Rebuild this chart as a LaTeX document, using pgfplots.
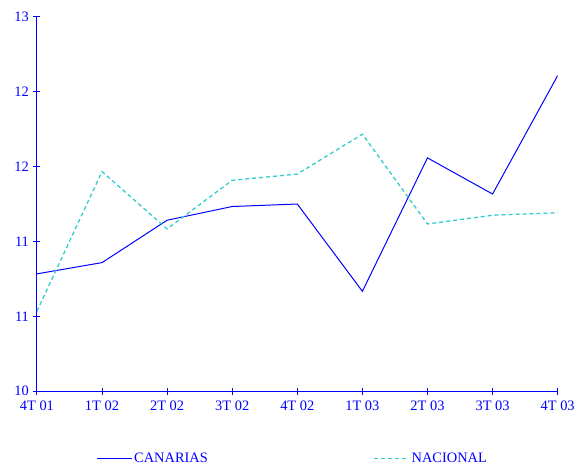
\documentclass[border=0pt]{standalone}
\usepackage{pgfplots}
\pgfplotsset{compat=1.18}
\usepackage{fontspec}
\setmainfont{Liberation Serif}
\definecolor{axisblue}{RGB}{0,0,255}
\definecolor{nacional}{RGB}{51,204,204}
\begin{document}
\begin{tikzpicture}
\begin{axis}[
  scale only axis,
  width=522bp, height=375bp,
  xmin=0, xmax=8, ymin=10, ymax=13,
  axis x line=bottom, axis y line=left,
  axis line style={axisblue, line width=1pt, -},
  every tick/.style={axisblue, line width=1pt},
  xtick align=center, ytick align=center, major tick length=7bp,
  xtick={0,...,8},
  xticklabels={4T 01,1T 02,2T 02,3T 02,4T 02,1T 03,2T 03,3T 03,4T 03},
  ytick={10,10.6,11.2,11.8,12.4,13},
  yticklabel style={xshift=-1bp, /pgf/number format/.cd, fixed, precision=0, assume math mode=true},
  ticklabel style={font=\fontsize{14.5}{16}\selectfont, text=axisblue},
  xticklabel style={yshift=-3bp},
  legend columns=2,
  legend style={draw=none, fill=none, at={(0.491,-0.16)}, anchor=north,
    font=\fontsize{14.5}{16}\selectfont, text=axisblue, inner sep=0pt,
    /tikz/every even column/.append style={column sep=164bp}},
  legend image code/.code={\draw[#1] (0bp,0bp) -- (35bp,0bp);},
]
\addplot[axisblue, line width=1pt] coordinates {
  (0,10.94) (1,11.03) (2,11.37) (3,11.48) (4,11.50)
  (5,10.80) (6,11.87) (7,11.58) (8,12.53)
};
\addlegendentry{CANARIAS}
\addplot[nacional, line width=1.3pt, dash pattern=on 4bp off 3bp] coordinates {
  (0,10.64) (1,11.76) (2,11.30) (3,11.69) (4,11.74)
  (5,12.06) (6,11.34) (7,11.41) (8,11.43)
};
\addlegendentry{NACIONAL}
\end{axis}
\path (current axis.south west) ++(-37bp,-73bp);
\path (current axis.north east) ++(19bp,17bp);
\end{tikzpicture}
\end{document}
